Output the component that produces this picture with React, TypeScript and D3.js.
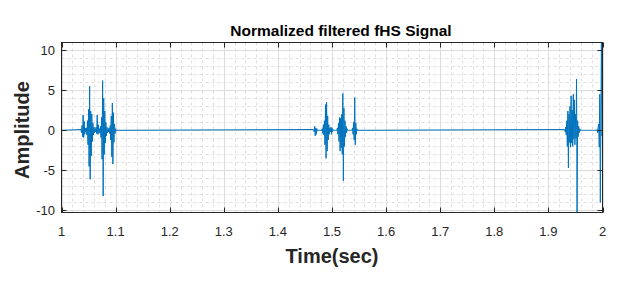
import React from "react";
import * as d3 from "d3";

// ---- data ----
const timeStart = 1.0;
const timeEnd = 2.0;
const sampleStep = 0.001;

const burst1Start = 1.036;
const burst1Values = [
  0.1, -0.3, 0.6, -0.8, 1.9, -0.9, 1.1, -0.5, 0.3, -0.2,
  0.3, -0.6, 1.2, -1.8, 2.6, -4.5, 5.5, -6.1, 2.4, -3.2,
  2.0, -1.4, 0.9, -0.6, 0.4, -0.3, 0.2, -0.2, 0.4, -0.4,
  1.9, -0.5, 0.7, -0.4, 0.2, -0.3, 0.5, -0.9, 1.6, -3.6,
  6.2, -8.2, 4.0, -3.0, 2.4, -1.6, 1.0, -0.7, 0.4, -0.3,
  0.2, -0.2, 0.3, -0.4, 0.6, -1.2, 1.8, -3.3, 3.4, -4.2,
  2.2, -1.5, 0.8, -0.4, 0.2, -0.1, 0,
];

const burst2Start = 1.466;
const burst2Values = [
  0.1, -0.2, 0.5, -0.7, 0.3, -0.5, 0.2, -0.1, 0, 0,
  0, 0, 0, 0, 0, 0, 0.2, -0.4, 0.7, -0.6,
  1.2, -1.8, 3.2, -3.5, 3.5, -2.6, 1.8, -1.2, 0.7, -0.5,
  0.3, -0.2, 0.4, -0.5, 0.3, -0.2, 0.1, 0, 0, 0,
  0, 0, 0, 0, 0.3, -0.5, 0.9, -1.4, 1.6, -2.6,
  1.5, -2.2, 2.0, -3.0, 4.6, -6.3, 2.8, -2.0, 1.2, -0.8,
  0.5, -0.3, 0.2, 0, 0, 0, 0, 0, 0, 0,
  0, 0, 0.3, -0.5, 1.0, -1.2, 4.1, -1.8, 0.9, -0.5,
  0.2, 0,
];

const burst3Start = 1.930;
const burst3Values = [
  0.1, -0.2, 0.4, -0.6, 1.2, -2.0, 2.4, -4.7, 2.0, -1.5,
  3.0, -2.1, 4.3, -1.6, 2.5, -2.0, 4.5, -1.1, 3.8, -1.8,
  2.0, -1.0, 6.4, -10.25, 1.2, -0.8, 0.5, -0.3, 0.2, -0.1,
  0, 0, 0, 0, 0, 0, 0, 0, 0, 0,
  0, 0, 0, 0, 0, 0, 0, 0, 0, 0,
  0, 0, 0, 0, 0, 0, 0, 0, 0, 0,
  0.1, -0.3, 0.4, 0.8, -2.1, 4.5, -9.0, 1.0, 10.95, -0.7,
  0,
];

const xTickValues = [1, 1.1, 1.2, 1.3, 1.4, 1.5, 1.6, 1.7, 1.8, 1.9, 2];
const xTickLabels = ["1", "1.1", "1.2", "1.3", "1.4", "1.5", "1.6", "1.7", "1.8", "1.9", "2"];
const yTickValues = [-10, -5, 0, 5, 10];
const yTickLabels = ["-10", "-5", "0", "5", "10"];

const titleText = "Normalized filtered fHS Signal";
const xLabelText = "Time(sec)";
const yLabelText = "Amplitude";

type Pt = [number, number];

function buildSeries(): Pt[] {
  const pts: Pt[] = [[timeStart, 0]];
  const bursts: [number, number[]][] = [
    [burst1Start, burst1Values],
    [burst2Start, burst2Values],
    [burst3Start, burst3Values],
  ];
  for (const [start, vals] of bursts) {
    vals.forEach((v, i) => {
      const t = Math.min(timeEnd, start + i * sampleStep);
      pts.push([t, v]);
    });
  }
  return pts;
}

export default function App() {
  const W = 622;
  const H = 283;
  const left = 61.5;
  const right = 602.5;
  const top = 42.5;
  const bottom = 212.5;

  const data = buildSeries();
  const ext = d3.extent(data, (d) => d[1]) as [number, number];

  const x = d3.scaleLinear().domain([timeStart, timeEnd]).range([left, right]);
  const y = d3.scaleLinear().domain(ext).range([bottom, top]);

  const line = d3
    .line<Pt>()
    .x((d) => x(d[0]))
    .y((d) => y(d[1]));

  const xMinor = d3.range(0, 51).map((i) => timeStart + i * 0.02);
  const yMinor = d3.range(Math.ceil(ext[0]), Math.floor(ext[1]) + 1);

  const font = "'Liberation Sans', Arial, Helvetica, sans-serif";
  const axisColor = "#262626";
  const tickLen = 5;

  return (
    <svg
      width={W}
      height={H}
      style={{ position: "absolute", left: 0, top: 0, background: "#fff" }}
      fontFamily={font}
    >
      <rect x={0} y={0} width={W} height={H} fill="#fff" />
      {/* minor grid */}
      <g stroke="#dedede" strokeWidth={1} strokeDasharray="3,3">
        {xMinor
          .filter((v) => !xTickValues.some((t) => Math.abs(t - v) < 1e-6))
          .map((v, i) => (
            <line key={"xm" + i} x1={Math.round(x(v)) + 0.5} x2={Math.round(x(v)) + 0.5} y1={top} y2={bottom} />
          ))}
        {yMinor
          .filter((v) => !yTickValues.includes(v))
          .map((v, i) => (
            <line key={"ym" + i} x1={left} x2={right} y1={Math.round(y(v)) + 0.5} y2={Math.round(y(v)) + 0.5} />
          ))}
      </g>
      {/* major grid */}
      <g stroke="#dcdcdc" strokeWidth={1}>
        {xTickValues.map((v, i) => (
          <line key={"xg" + i} x1={Math.round(x(v)) + 0.5} x2={Math.round(x(v)) + 0.5} y1={top} y2={bottom} />
        ))}
        {yTickValues.map((v, i) => (
          <line key={"yg" + i} x1={left} x2={right} y1={Math.round(y(v)) + 0.5} y2={Math.round(y(v)) + 0.5} />
        ))}
      </g>
      {/* signal */}
      <path d={line(data) || ""} fill="none" stroke="#0072BD" strokeWidth={1} />
      {/* box */}
      <rect x={left} y={top} width={right - left} height={bottom - top} fill="none" stroke={axisColor} strokeWidth={1} />
      {/* ticks */}
      <g stroke={axisColor} strokeWidth={1}>
        {xTickValues.map((v, i) => {
          const px = Math.round(x(v)) + 0.5;
          return (
            <g key={"xt" + i}>
              <line x1={px} x2={px} y1={bottom} y2={bottom - tickLen} />
              <line x1={px} x2={px} y1={top} y2={top + tickLen} />
            </g>
          );
        })}
        {yTickValues.map((v, i) => {
          const py = Math.round(y(v)) + 0.5;
          return (
            <g key={"yt" + i}>
              <line x1={left} x2={left + tickLen} y1={py} y2={py} />
              <line x1={right} x2={right - tickLen} y1={py} y2={py} />
            </g>
          );
        })}
      </g>
      {/* tick labels */}
      <g fill={axisColor} fontSize={13}>
        {xTickValues.map((v, i) => (
          <text key={"xl" + i} x={x(v)} y={235.5} textAnchor="middle">
            {xTickLabels[i]}
          </text>
        ))}
        {yTickValues.map((v, i) => (
          <text key={"yl" + i} x={55} y={y(v) + 4.7} textAnchor="end">
            {yTickLabels[i]}
          </text>
        ))}
      </g>
      {/* labels */}
      <text x={341} y={36} textAnchor="middle" fontSize={15.5} fontWeight="bold" fill="#000">
        {titleText}
      </text>
      <text x={332} y={263} textAnchor="middle" fontSize={20} fontWeight="bold" fill={axisColor}>
        {xLabelText}
      </text>
      <text
        transform={`translate(29,${130}) rotate(-90)`}
        textAnchor="middle"
        fontSize={20}
        fontWeight="bold"
        fill={axisColor}
      >
        {yLabelText}
      </text>
    </svg>
  );
}
